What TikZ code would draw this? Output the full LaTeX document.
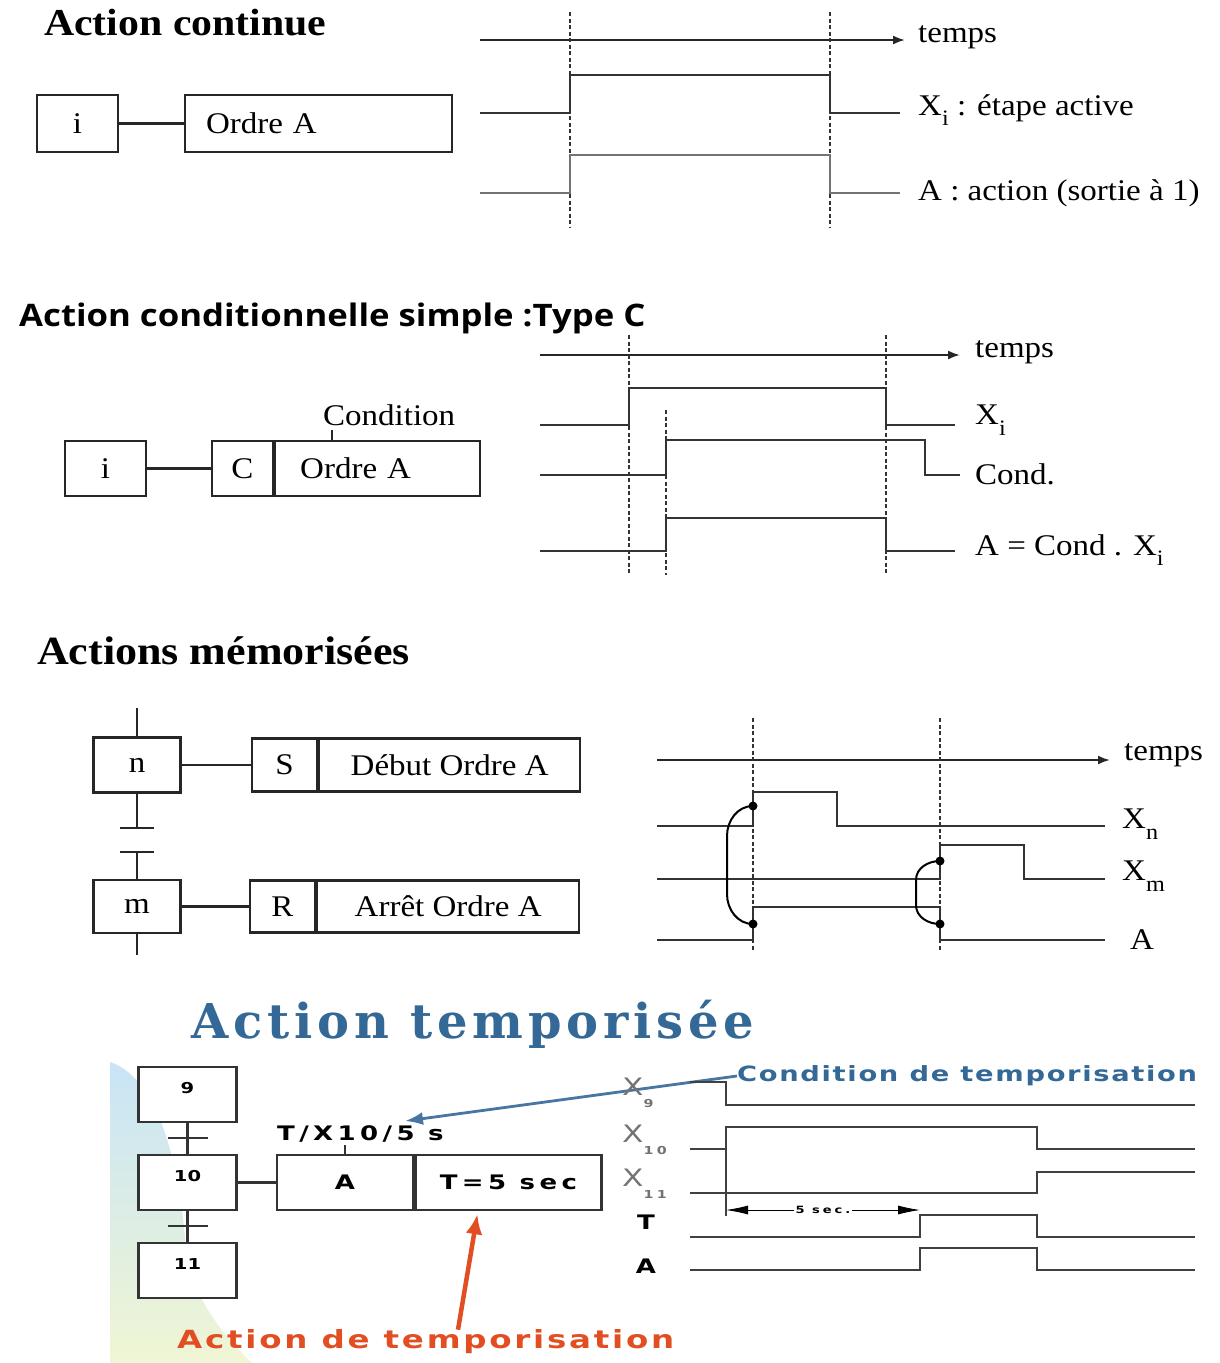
\documentclass[tikz,border=0pt]{standalone}
\usepackage{fontspec}
\setmainfont{Liberation Serif}[FakeStretch=1.1]
\newfontfamily\tsans{Open Sans}[FakeStretch=1.12]
\newfontfamily\wsans{DejaVu Sans}[FakeStretch=1.3]
\newfontfamily\wserif{DejaVu Serif}
\usetikzlibrary{arrows.meta,positioning,calc}

\definecolor{titleblue}{RGB}{52,104,150}
\definecolor{arrowblue}{RGB}{72,118,162}
\definecolor{redorange}{RGB}{226,78,34}
\definecolor{bgblue}{RGB}{200,228,246}
\definecolor{bgyellow}{RGB}{240,246,212}

\newcommand\sfs[1]{\fontsize{#1}{#1}\selectfont}
\newcommand\lowsub[1]{\raisebox{-.35em}{\sfs{22}#1}}

\begin{document}
\begin{tikzpicture}[x=1pt,y=-1pt,
  font=\sfs{30},
  gbox/.style={draw=black!85, line width=2.2pt, inner sep=0pt, minimum height=55pt},
  sbox/.style={draw=black!80, fill=white, line width=2.4pt, inner sep=0pt, minimum width=98pt,
    text height=26pt, text depth=29pt, font=\wsans\bfseries\sfs{15}},
  wire/.style={draw=black!85, line width=2.2pt},
  sig/.style={draw=black!80, line width=2pt},
  tsig/.style={draw=black!75, line width=1.6pt},
  vdash/.style={draw=black!80, line width=1.1pt, dash pattern=on 4pt off 2.5pt},
  taxis/.style={draw=black!85, line width=2pt, -{Latex[length=12pt,width=9pt]}},
  lbl/.style={anchor=west, inner sep=0pt},
  wlbl/.style={font=\wsans\bfseries\sfs{20}\addfontfeature{LetterSpace=22}}
]
\useasboundingbox (0,0) rectangle (1220,1363);

% Action continue
\node[lbl, font=\bfseries\sfs{38}] (t1) at (44,23) {Action continue};
\node[gbox, minimum width=81pt, minimum height=57pt] (i1) at (77.5,123.5) {i};
\node[gbox, minimum width=267pt, minimum height=57pt, text width=225pt, align=left] (o1) at (318.5,123.5) {Ordre A};
\draw[wire] (i1) -- (o1);

\draw[taxis] (480,40) -- (905,40);
\node[lbl] (tp1) at (918,37) {temps};
\draw[vdash] (570,12) -- (570,228);
\draw[vdash] (830,12) -- (830,228);
\draw[sig] (480,113) -- (570,113) -- (570,75) -- (830,75) -- (830,113) -- (900,113);
\draw[sig, black!55] (480,193) -- (570,193) -- (570,155) -- (830,155) -- (830,193) -- (900,193);
\node[lbl] (xi1) at (918,110) {X\lowsub{i} : étape active};
\node[lbl] (a1) at (918,193) {A : action (sortie à 1)};

% Action conditionnelle
\node[lbl, font=\tsans\bfseries\sfs{31}] (t2) at (19,318) {Action conditionnelle simple :Type C};
\node[gbox, minimum width=81pt] (i2) at (105.5,468.5) {i};
\node[gbox, minimum width=61pt] (c2) at (242.5,468.5) {C};
\node[gbox, minimum width=205pt, text width=155pt, align=left, anchor=west] (o2) at (c2.east) {Ordre A};
\draw[wire] (i2) -- (c2);
\draw[wire] (332,441) -- (332,430);
\node[anchor=base west, inner sep=0pt] (cd2) at (323,425) {Condition};

\draw[taxis] (540,355) -- (960,355);
\node[lbl] (tp2) at (975,352) {temps};
\draw[vdash] (629,335) -- (629,575);
\draw[vdash] (886,335) -- (886,575);
\draw[vdash] (666,410) -- (666,575);
\draw[sig] (540,425) -- (629,425) -- (629,388) -- (886,388) -- (886,425) -- (955,425);
\draw[sig] (540,475) -- (666,475) -- (666,440) -- (925,440) -- (925,475) -- (960,475);
\draw[sig] (540,551) -- (666,551) -- (666,518) -- (886,518) -- (886,551) -- (955,551);
\node[lbl] (xi2) at (975,420) {X\lowsub{i}};
\node[lbl] (cn2) at (975,474) {Cond.};
\node[lbl] (a2) at (975,550) {A = Cond . X\lowsub{i}};

% Actions memorisees
\node[lbl, font=\bfseries\sfs{40}] (t3) at (37,651) {Actions mémorisées};
\node[gbox, minimum width=87pt] (sn) at (137,765) {n};
\node[gbox, minimum width=87pt, minimum height=53pt] (sm) at (137,906.5) {m};
\node[gbox, minimum width=65pt, minimum height=53pt] (ss) at (284.5,765) {S};
\node[gbox, minimum width=261pt, minimum height=53pt, anchor=west] (da) at (ss.east) {Début Ordre A};
\node[gbox, minimum width=65pt, minimum height=52pt] (sr) at (282.5,906.5) {R};
\node[gbox, minimum width=262pt, minimum height=52pt, anchor=west] (aa) at (sr.east) {Arrêt Ordre A};
\coordinate (nin) at (137,708);
\coordinate (tr1) at (137,828);
\coordinate (tr2) at (137,852);
\coordinate (mout) at (137,955);
\draw[wire] (nin) -- (sn);
\draw[wire] (sn) -- (tr1);
\draw[wire] ([xshift=-17pt]tr1) -- ([xshift=17pt]tr1);
\draw[wire] ([xshift=-17pt]tr2) -- ([xshift=17pt]tr2);
\draw[wire] (tr2) -- (sm);
\draw[wire] (sm) -- (mout);
\draw[wire] (sn) -- (ss);
\draw[wire] (sm) -- (sr);

\draw[taxis] (657,760) -- (1110,760);
\node[lbl] (tp3) at (1124,755) {temps};
\draw[vdash] (753,718) -- (753,950);
\draw[vdash] (940,718) -- (940,950);
\draw[sig] (657,826) -- (753,826) -- (753,792) -- (837,792) -- (837,826) -- (1105,826);
\draw[sig] (657,879) -- (940,879) -- (940,845) -- (1024,845) -- (1024,879) -- (1105,879);
\draw[sig] (657,940) -- (753,940) -- (753,907) -- (940,907) -- (940,940) -- (1105,940);
\node[lbl] (xn) at (1122,824) {X\lowsub{n}};
\node[lbl] (xm) at (1122,876) {X\lowsub{m}};
\node[lbl] (a3) at (1130,940) {A};
\coordinate (d1) at (753,806);
\coordinate (d2) at (753,924);
\coordinate (d3) at (940,861);
\coordinate (d4) at (940,924);
\draw[sig, black] (d1) to[out=180,in=90] (727,836) -- (727,894) to[out=-90,in=180] (d2);
\draw[sig, black] (d3) to[out=180,in=90] (916,880) -- (916,905) to[out=-90,in=180] (d4);
\foreach \d in {d1,d2,d3,d4} \fill (\d) circle (4.5);

% Action temporisee
\shade[top color=bgblue, bottom color=bgyellow]
  (110,1062) .. controls (150,1075) and (178,1140) .. (186,1250)
  .. controls (192,1300) and (228,1340) .. (252,1363) -- (110,1363) -- cycle;
\node[lbl, font=\wserif\bfseries\sfs{48}\addfontfeature{LetterSpace=10}, text=titleblue] (t4) at (191,1024) {Action temporisée};
\node[sbox] (s9) at (187.5,1094.5) {9};
\node[sbox] (s10) at (187.5,1182.5) {10};
\node[sbox] (s11) at (187.5,1270.5) {11};
\draw[wire, black!80] (s9) -- (s10);
\draw[wire, black!80] (s10) -- (s11);
\draw[wire, black!80] (168,1138) -- (208,1138);
\draw[wire, black!80] (168,1226) -- (208,1226);
\node[gbox, draw=black!80, line width=2.4pt, minimum width=136pt, wlbl] (ab) at (345,1182.5) {A};
\node[gbox, draw=black!80, line width=2.4pt, minimum width=186pt, wlbl, anchor=west] (tsec) at (ab.east) {T=5 sec};
\draw[wire, black!80] (s10) -- (ab);
\draw[wire, black!80] (ab.north) -- ++(0,-9);
\node[anchor=base west, inner sep=0pt, wlbl] (tx) at (277,1140) {T/X10/5 s};

\node[lbl, font=\wsans\bfseries\sfs{21}\addfontfeature{LetterSpace=8}, text=titleblue] (cd4) at (737,1076) {Condition de temporisation};
\coordinate (txin) at (405,1121);
\draw[arrowblue, line width=2.8pt, -{Latex[length=18pt,width=13pt]}] (cd4.west) -- (txin);
\node[lbl, font=\wsans\bfseries\sfs{25}\addfontfeature{LetterSpace=11}, text=redorange] (ac4) at (177,1342) {Action de temporisation};
\draw[redorange, line width=4.5pt, -{Latex[length=20pt,width=17pt]}] ($(ac4.north west)+(281,0)$) -- ($(tsec.south)+(-31,3)$);

\draw[tsig] (690,1082) -- (726,1082) -- (726,1105) -- (1195,1105);
\draw[tsig] (690,1149) -- (726,1149) -- (726,1127) -- (1037,1127) -- (1037,1149) -- (1195,1149);
\draw[tsig] (690,1193) -- (1037,1193) -- (1037,1172) -- (1195,1172);
\draw[tsig] (726,1149) -- (726,1216);
\draw[tsig] (690,1237) -- (920,1237) -- (920,1215) -- (1037,1215) -- (1037,1237) -- (1195,1237);
\draw[tsig] (690,1270) -- (920,1270) -- (920,1248) -- (1037,1248) -- (1037,1270) -- (1195,1270);
\draw[line width=.8pt, {Latex[length=22pt,width=9pt]}-{Latex[length=22pt,width=9pt]}] (726,1210) -- node[fill=white, inner sep=2pt, font=\wsans\bfseries\sfs{10}\addfontfeature{LetterSpace=30}] (fs) {5 sec.} (920,1210);
\node[lbl, text=black!55, font=\wsans\sfs{24}] (x9) at (622,1093) {X\raisebox{-.5em}{\wsans\bfseries\sfs{11}\addfontfeature{LetterSpace=30}9}};
\node[lbl, text=black!55, font=\wsans\sfs{24}] (x10) at (622,1140) {X\raisebox{-.5em}{\wsans\bfseries\sfs{11}\addfontfeature{LetterSpace=30}10}};
\node[lbl, text=black!55, font=\wsans\sfs{24}] (x11) at (622,1184) {X\raisebox{-.5em}{\wsans\bfseries\sfs{11}\addfontfeature{LetterSpace=30}11}};
\node[font=\wsans\bfseries\sfs{20}] (tl) at (646,1222) {T};
\node[font=\wsans\bfseries\sfs{20}] (al) at (646,1266) {A};
\end{tikzpicture}
\end{document}
